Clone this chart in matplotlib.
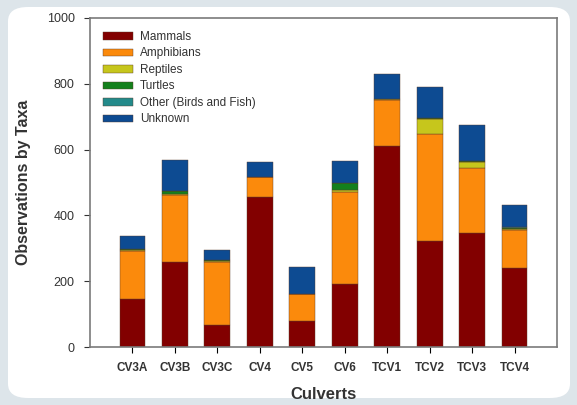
import numpy as np
import matplotlib
matplotlib.use("Agg")
import matplotlib.pyplot as plt
from matplotlib.patches import FancyBboxPatch

plt.rcParams['font.family'] = ['Liberation Sans', 'DejaVu Sans']

culverts = ['CV3A', 'CV3B', 'CV3C', 'CV4', 'CV5', 'CV6', 'TCV1', 'TCV2', 'TCV3', 'TCV4']
mammals = [145, 257, 68, 455, 80, 193, 610, 321, 348, 241]
amphibians = [147, 206, 190, 61, 81, 278, 142, 326, 197, 114]
reptiles = [2, 3, 3, 0, 0, 7, 2, 46, 17, 5]
turtles = [3, 9, 3, 0, 0, 21, 0, 4, 3, 3]
other = [1, 0, 1, 0, 0, 0, 0, 0, 0, 1]
unknown = [38, 92, 29, 46, 82, 66, 77, 92, 111, 69]

taxa = ['Mammals', 'Amphibians', 'Reptiles', 'Turtles', 'Other (Birds and Fish)', 'Unknown']
colors = ['#820000', '#fb8a0c', '#c6c61c', '#14801c', '#238a8a', '#0d4b92']

fig = plt.figure(figsize=(5.77, 4.05), dpi=100)
fig.patch.set_facecolor('#dde5ea')

# white rounded card behind the chart
card = FancyBboxPatch((8 / 577, 7 / 405), 562 / 577, 391 / 405,
                      boxstyle='round,pad=0,rounding_size=0.035',
                      transform=fig.transFigure, facecolor='white',
                      edgecolor='none', zorder=-10)
fig.add_artist(card)

ax = fig.add_axes([90 / 577, 58 / 405, 467 / 577, 329 / 405])
ax.set_facecolor('none')
ax.set_zorder(1)

x = np.arange(len(culverts))
bottom = np.zeros(len(culverts))
for name, vals, col in zip(taxa, [mammals, amphibians, reptiles, turtles, other, unknown], colors):
    vals = np.array(vals, dtype=float)
    ax.bar(x, vals, 0.61, bottom=bottom, color=col, label=name,
           edgecolor='#5a3a2a', linewidth=0.3)
    bottom += vals

ax.set_xlim(-1, 10)
ax.set_ylim(0, 1000)
ax.set_yticks(np.arange(0, 1001, 200))
ax.set_xticks(x)
ax.set_xticklabels(culverts, fontsize=8.5, fontweight='bold', color='#333333')
ax.tick_params(axis='y', labelsize=9, colors='#333333', direction='out',
               length=4, width=0.8, pad=7)
ax.tick_params(axis='x', direction='out', length=4, width=0.8, pad=7)
for sp in ax.spines.values():
    sp.set_color('#7a7a7a')
    sp.set_linewidth(1.2)

ax.set_ylabel('Observations by Taxa', fontsize=11.5, fontweight='bold', color='#333333', labelpad=11)
ax.set_xlabel('Culverts', fontsize=12, fontweight='bold', color='#333333', labelpad=9)

leg = ax.legend(loc='upper left', bbox_to_anchor=(0.012, 0.982), frameon=False,
                fontsize=8.5, handlelength=2.55, handleheight=0.6,
                labelspacing=0.38, handletextpad=0.6, borderaxespad=0.2)
for t in leg.get_texts():
    t.set_color('#333333')

fig.savefig('out.png', dpi=100, facecolor=fig.get_facecolor())
